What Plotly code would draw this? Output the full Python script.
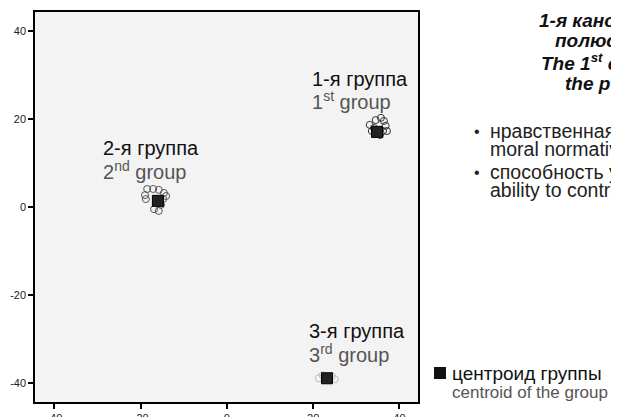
import plotly.graph_objects as go

# ---- data ----
g1_x = [33.1, 33.6, 34.5, 35.7, 36.4, 36.8, 36.2, 35.5, 34.5, 37.1, 34.1]
g1_y = [18.7, 17.3, 19.8, 20.3, 19.6, 18.5, 17.3, 16.4, 16.6, 17.3, 18.0]
g2_x = [-19.0, -18.5, -17.1, -15.8, -14.6, -14.8, -15.3, -15.8, -16.9, -18.8, -14.1]
g2_y = [2.7, 4.1, 4.1, 3.9, 3.2, 1.8, 0.5, -0.9, -0.5, 1.8, 2.5]
g3_x = [21.3, 25.0, 22.2, 24.3]
g3_y = [-39.0, -39.2, -38.3, -38.5]
centroid_x = [34.8, -16.0, 23.2]
centroid_y = [17.1, 1.4, -39.0]
tick_vals = [-40, -20, 0, 20, 40]
tick_text = ["-40", "-20", "0", "20", "40"]
group_ru = ["1-я группа", "2-я группа", "3-я группа"]
group_en = ["1<sup>st</sup> group", "2<sup>nd</sup> group", "3<sup>rd</sup> group"]

FONT = "Liberation Sans, Arial, sans-serif"

fig = go.Figure()
for xs, ys, col in [(g1_x, g1_y, "#333"), (g2_x, g2_y, "#555"), (g3_x, g3_y, "#bbb")]:
    fig.add_trace(go.Scatter(x=xs, y=ys, mode="markers",
                             marker=dict(symbol="circle-open", size=7, color=col, line=dict(width=1)),
                             showlegend=False, hoverinfo="skip"))
fig.add_trace(go.Scatter(x=centroid_x, y=centroid_y, mode="markers",
                         marker=dict(symbol="square", size=11, color="#222",
                                     line=dict(color="#000", width=1)),
                         showlegend=False, hoverinfo="skip"))

# page has an 8px body margin; page coords of the plot frame:
W, H = 619, 417
OFF = 8
L, R, T, B = 35, 418, 12, 402
def px(x):
    return (x - L) / (R - L)
def py(y):
    return (B - y) / (B - T)

label_pos = [(310, 79, 101), (101, 148, 170), (307, 331, 353)]
for (lx, ly1, ly2), ru, en in zip(label_pos, group_ru, group_en):
    fig.add_annotation(x=px(lx), y=py(ly1), xref="paper", yref="paper", text=ru,
                       showarrow=False, xanchor="left", yanchor="middle",
                       font=dict(family=FONT, size=20, color="#111"))
    fig.add_annotation(x=px(lx), y=py(ly2), xref="paper", yref="paper", text=en,
                       showarrow=False, xanchor="left", yanchor="middle",
                       font=dict(family=FONT, size=20, color="#555"))

# right-side title (cut off at the right edge)
title_lines = [(537, 20, "<b><i>1-я каноническая функция:</i></b>"),
               (553, 41, "<b><i>полюс саморегуляции</i></b>"),
               (539, 62, "<b><i>The 1<sup>st</sup> canonical function:</i></b>"),
               (563, 83, "<b><i>the pole of self-regulation</i></b>")]
for tx, ty, t in title_lines:
    fig.add_annotation(x=px(tx), y=py(ty), xref="paper", yref="paper", text=t,
                       showarrow=False, xanchor="left", yanchor="middle",
                       font=dict(family=FONT, size=19, color="#111"))

for by in [131, 172]:
    fig.add_annotation(x=px(472), y=py(by), xref="paper", yref="paper", text="•",
                       showarrow=False, xanchor="left", yanchor="middle",
                       font=dict(family=FONT, size=16, color="#222"))
bullet_text = [(131, "нравственная нормативность"), (149, "moral normativity"),
               (172, "способность управлять собой"), (190, "ability to control oneself")]
for by, t in bullet_text:
    fig.add_annotation(x=px(488), y=py(by), xref="paper", yref="paper", text=t,
                       showarrow=False, xanchor="left", yanchor="middle",
                       font=dict(family=FONT, size=19.5, color="#222"))

# legend
fig.add_shape(type="rect", xref="paper", yref="paper",
              x0=px(434), x1=px(446), y0=py(379), y1=py(367),
              fillcolor="#111", line=dict(width=0))
fig.add_annotation(x=px(450), y=py(373), xref="paper", yref="paper", text="центроид группы",
                   showarrow=False, xanchor="left", yanchor="middle",
                   font=dict(family=FONT, size=19, color="#111"))
fig.add_annotation(x=px(450), y=py(392), xref="paper", yref="paper", text="centroid of the group",
                   showarrow=False, xanchor="left", yanchor="middle",
                   font=dict(family=FONT, size=17, color="#555"))

axis_common = dict(showgrid=False, zeroline=False, showline=True, linecolor="#000", linewidth=1.5,
                   mirror=True, ticks="outside", ticklen=5, tickwidth=1.5, tickcolor="#000",
                   tickvals=tick_vals, ticktext=tick_text,
                   tickfont=dict(family=FONT, size=11, color="#222"), automargin=False)
fig.update_xaxes(range=[-44.5, 44.3], **axis_common)
fig.update_yaxes(range=[-44.4, 44.4], **axis_common)

fig.update_layout(width=W, height=H,
                  margin=dict(l=L - OFF, r=W - (R - OFF), t=T - OFF, b=H - (B - OFF)),
                  plot_bgcolor="#f3f3f3", paper_bgcolor="#ffffff", showlegend=False)

fig.write_html("out.html")
